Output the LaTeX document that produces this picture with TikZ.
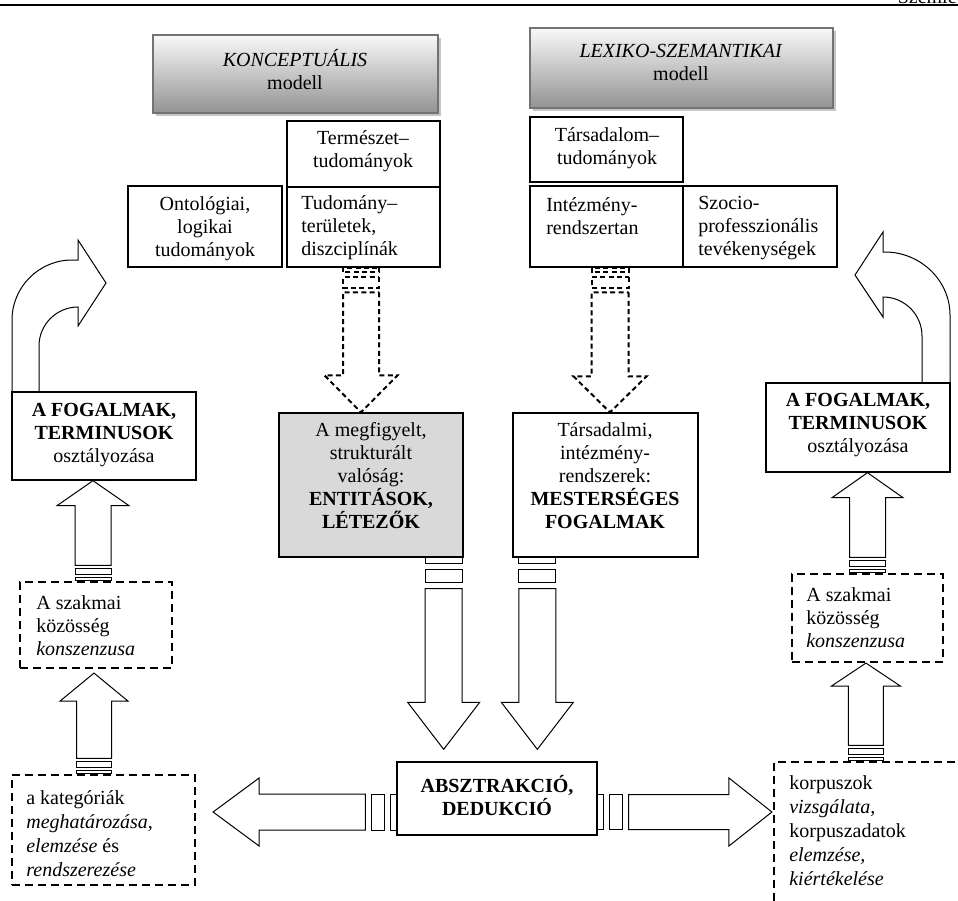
\documentclass[tikz,border=0pt]{standalone}
\usepackage{fontspec}
\setmainfont{Liberation Serif}
\usetikzlibrary{calc,shadows}

% one pixel of the layout
\newcommand\pxu{0.6pt}

% block arrow: [style]{start}{tip}{half shaft}{half head}{head length}{stripe scale}
\newcommand{\blockarrow}[7][barrow]{%
  \coordinate (ba0) at (#2);
  \coordinate (ba1) at ($(#2)!#7*6*\pxu!(#3)$);
  \coordinate (ba2) at ($(#2)!#7*12*\pxu!(#3)$);
  \coordinate (ba3) at ($(#2)!#7*25*\pxu!(#3)$);
  \coordinate (ba4) at ($(#2)!#7*31*\pxu!(#3)$);
  \coordinate (bah) at ($(#3)!#6*\pxu!(#2)$);
  \foreach \pa/\pb in {ba0/ba1, ba2/ba3}
    \draw[#1] ($(\pa)!#4*\pxu!90:(#3)$) -- ($(\pb)!#4*\pxu!90:(#3)$)
      -- ($(\pb)!#4*\pxu!-90:(#3)$) -- ($(\pa)!#4*\pxu!-90:(#3)$) -- cycle;
  \draw[#1] ($(ba4)!#4*\pxu!90:(#3)$) -- ($(bah)!#4*\pxu!90:(#3)$)
    -- ($(bah)!#5*\pxu!90:(#3)$) -- (#3) -- ($(bah)!#5*\pxu!-90:(#3)$)
    -- ($(bah)!#4*\pxu!-90:(#3)$) -- ($(ba4)!#4*\pxu!-90:(#3)$) -- cycle;
}

\tikzset{
  box/.style={draw, line width=0.8pt, fill=white, inner sep=0pt},
  dbox/.style={draw, line width=1.3pt, dash pattern=on 4.8pt off 3pt, inner sep=0pt},
  modelbox/.style={draw=black!55, line width=0.8pt, top color=gray!5, bottom color=gray!85,
    inner sep=0pt, drop shadow={shadow xshift=1.8pt, shadow yshift=-1.8pt, fill=gray!45, opacity=1}},
  sz/.style 2 args={minimum width=#1*\pxu, minimum height=#2*\pxu},
  txt/.style={inner sep=0pt, align=center, font=\fontsize{12}{13.8}\selectfont},
  ltxt/.style={txt, align=left, anchor=west},
  barrow/.style={draw, line width=0.6pt, fill=white, line join=miter},
  darrow/.style={barrow, line width=1.2pt, dash pattern=on 3pt off 2pt},
}

\begin{document}
\begin{tikzpicture}[x=0.6pt, y=-0.6pt]
  \useasboundingbox (0,0) rectangle (958,900);

  % page header
  \draw[line width=0.8pt] (0,5) -- (958,5);
  \node[txt, anchor=base east] (szemle) at (957,3) {Szemle};

  % the two models
  \node[modelbox, sz={285}{78}] (konc) at (295.5,74) {};
  \node[txt] (konct) at (295,69.5) {\textit{KONCEPTUÁLIS}\\modell};
  \node[modelbox, sz={303}{80}] (lex) at (681.5,68) {};
  \node[txt] (lext) at (681,62) {\textit{LEXIKO-SZEMANTIKAI}\\modell};

  % sciences
  \node[box, sz={153}{66}] (term) at (363.5,154) {};
  \node[txt] (termt) at (363,151) {Természet–\\tudományok};
  \node[box, sz={154}{81}] (onto) at (205,226.5) {};
  \node[txt] (ontot) at (205,229) {Ontológiai,\\logikai\\tudományok};
  \node[box, sz={153}{80}] (tud) at (363.5,227) {};
  \node[ltxt] (tudt) at (301,228) {Tudomány–\\területek,\\diszciplínák};
  \node[box, sz={153}{65}] (tars) at (606.5,149.5) {};
  \node[txt] (tarst) at (607,148) {Társadalom–\\tudományok};
  \node[box, sz={153}{81}] (intez) at (606.5,226.5) {};
  \node[ltxt] (intezt) at (546,216.5) {Intézmény-\\rendszertan};
  \node[box, sz={154}{81}] (szoc) at (760,226.5) {};
  \node[ltxt] (szoct) at (698,228) {Szocio-\\professzionális\\tevékenységek};

  % bent arrows
  \draw[barrow] (12,392) -- (12,320) .. controls (12,287) and (39,260) .. (72,260)
    -- (78,260) -- (78,240) -- (106,283) -- (78,326) -- (78,307)
    .. controls (56.5,307) and (39,324.5) .. (39,346) -- (39,392) -- cycle;
  \draw[barrow] (950,383) -- (950,315) .. controls (950,280) and (920,252) .. (885,252)
    -- (883,252) -- (883,232) -- (855,275) -- (883,317) -- (883,297)
    .. controls (904.5,297) and (922,314.5) .. (922,336) -- (922,383) -- cycle;

  % classification boxes
  \node[box, sz={184}{88}] (fogL) at (104,436) {};
  \node[txt] (fogLt) at (104,435) {\textbf{A FOGALMAK,}\\\textbf{TERMINUSOK}\\osztályozása};
  \node[box, sz={184}{89}] (fogR) at (858,427.5) {};
  \node[txt] (fogRt) at (858,425.5) {\textbf{A FOGALMAK,}\\\textbf{TERMINUSOK}\\osztályozása};

  % reality boxes
  \node[box, fill=gray!30, sz={184}{144}] (ent) at (371,485) {};
  \node[txt] (entt) at (371,476) {A megfigyelt,\\strukturált\\valóság:\\\textbf{ENTITÁSOK,}\\\textbf{LÉTEZŐK}};
  \node[box, sz={185}{144}] (tarsi) at (605.5,485) {};
  \node[txt] (tarsit) at (605,476) {Társadalmi,\\intézmény-\\rendszerek:\\\textbf{MESTERSÉGES}\\\textbf{FOGALMAK}};

  % abstraction
  \node[box, sz={200}{73}] (abs) at (497,798.5) {};
  \node[txt] (abst) at (497,795.5) {\textbf{ABSZTRAKCIÓ,}\\\textbf{DEDUKCIÓ}};

  % dashed boxes
  \node[dbox, sz={152}{86}] (szakL) at (96,625) {};
  \node[ltxt] (szakLt) at (36,626) {A szakmai\\közösség\\\textit{konszenzusa}};
  \node[dbox, sz={151}{88}] (szakR) at (867.5,618) {};
  \node[ltxt] (szakRt) at (806,618) {A szakmai\\közösség\\\textit{konszenzusa}};
  \node[dbox, sz={183}{110}] (katL) at (103.5,830) {};
  \node[ltxt, font=\fontsize{12}{14.4}\selectfont] (katLt) at (26,833.5)
    {a kategóriák\\\textit{meghatározása,}\\\textit{elemzése} és\\\textit{rendszerezése}};
  \node[dbox, sz={226}{158}] (korp) at (887,841) {};
  \node[ltxt, font=\fontsize{12}{14.4}\selectfont] (korpt) at (789,831)
    {korpuszok\\\textit{vizsgálata,}\\korpuszadatok\\\textit{elemzése,}\\\textit{kiértékelése}};

  % dashed arrows from the sciences
  \coordinate (s1) at ($(tud.south)+(-2.5,0)$);
  \coordinate (t1) at (ent.north -| s1);
  \blockarrow[darrow]{s1}{t1}{18}{36.5}{37}{0.8}
  \coordinate (s2) at ($(intez.south)+(3.5,0)$);
  \coordinate (t2) at (tarsi.north -| s2);
  \blockarrow[darrow]{s2}{t2}{18.5}{36.5}{36}{0.8}

  % arrows into abstraction
  \coordinate (s3) at ($(ent.south east)+(-20,0)$);
  \coordinate (t3) at ($(abs.north -| s3)+(0,-12)$);
  \blockarrow{s3}{t3}{18.5}{36}{47}{1}
  \coordinate (s4) at ($(tarsi.south west)+(25,0)$);
  \coordinate (t4) at ($(abs.north -| s4)+(0,-12)$);
  \blockarrow{s4}{t4}{18.5}{36}{47}{1}

  % arrows out of abstraction
  \coordinate (s5) at ($(abs.west)+(0,13.5)$);
  \coordinate (t5) at ($(katL.east |- s5)+(17,0)$);
  \blockarrow{s5}{t5}{18}{34}{46}{1}
  \coordinate (s6) at ($(abs.east)+(0,13.5)$);
  \coordinate (t6) at ($(korp.west |- s6)+(-1,0)$);
  \blockarrow{s6}{t6}{17.5}{34}{43}{1}

  % arrows up the sides
  \coordinate (s7) at ($(szakL.north)+(-3,0)$);
  \coordinate (t7) at (fogL.south -| s7);
  \blockarrow{s7}{t7}{18}{36}{25}{0.5}
  \coordinate (s8) at ($(katL.north)+(-9.5,0)$);
  \coordinate (t8) at ($(szakL.south -| s8)+(0,4)$);
  \blockarrow{s8}{t8}{17.5}{34}{28}{0.5}
  \coordinate (s9) at (szakR.north);
  \coordinate (t9) at (fogR.south -| s9);
  \blockarrow{s9}{t9}{18}{35.5}{25}{0.5}
  \coordinate (s10) at ($(korp.north west)+(93,0)$);
  \coordinate (t10) at (szakR.south -| s10);
  \blockarrow{s10}{t10}{17.5}{34.5}{23}{0.5}
\end{tikzpicture}
\end{document}
